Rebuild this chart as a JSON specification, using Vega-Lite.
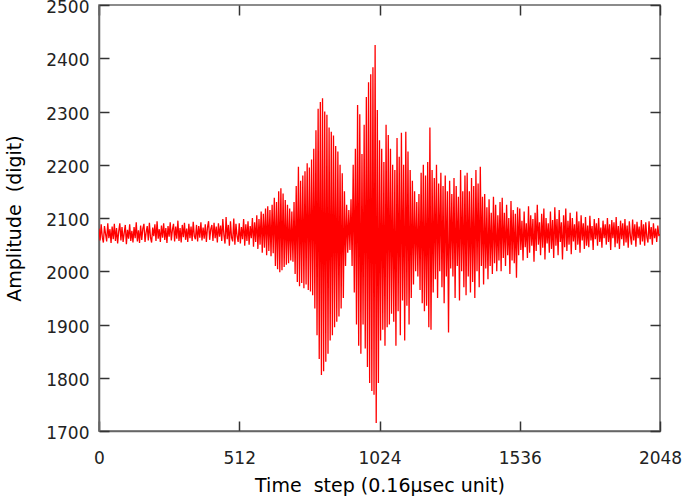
{
"$schema": "https://vega.github.io/schema/vega-lite/v6.json",
"width": 561, "height": 426,
"autosize": {"type": "none"},
"padding": {"left": 99, "top": 5, "right": 25, "bottom": 69},
"background": "white",
"config": {"view": {"stroke": "#666666", "strokeWidth": 1.5},
 "font": "DejaVu Sans",
 "axis": {"grid": false, "labelFont": "DejaVu Sans", "titleFont": "DejaVu Sans", "labelFontSize": 17, "titleFontSize": 19, "titleFontWeight": "normal", "labelColor": "#222222", "titleColor": "#000000", "domainColor": "#666666", "domainWidth": 1.5, "tickColor": "#333333", "tickWidth": 1.5, "tickSize": -10, "labelOverlap": false, "labelFlush": false, "labelBound": false, "format": "d"}},
"data": {"values": [
{"t":0,"a":2080},{"t":4,"a":2058},{"t":8,"a":2088},{"t":12,"a":2064},{"t":16,"a":2054},{"t":20,"a":2085},{"t":24,"a":2070},{"t":28,"a":2056},{"t":32,"a":2090},{"t":36,"a":2062},{"t":40,"a":2079},{"t":44,"a":2053},{"t":48,"a":2084},{"t":52,"a":2060},{"t":56,"a":2089},{"t":60,"a":2057},
{"t":64,"a":2081},{"t":68,"a":2052},{"t":72,"a":2075},{"t":76,"a":2090},{"t":80,"a":2058},{"t":84,"a":2083},{"t":88,"a":2055},{"t":92,"a":2072},{"t":96,"a":2087},{"t":100,"a":2051},{"t":104,"a":2078},{"t":108,"a":2061},{"t":112,"a":2088},{"t":116,"a":2057},{"t":120,"a":2076},{"t":124,"a":2054},
{"t":128,"a":2083},{"t":132,"a":2062},{"t":136,"a":2092},{"t":140,"a":2056},{"t":144,"a":2077},{"t":148,"a":2053},{"t":152,"a":2086},{"t":156,"a":2059},{"t":160,"a":2080},{"t":164,"a":2089},{"t":168,"a":2055},{"t":172,"a":2073},{"t":176,"a":2085},{"t":180,"a":2058},{"t":184,"a":2091},{"t":188,"a":2063},
{"t":192,"a":2054},{"t":196,"a":2082},{"t":200,"a":2066},{"t":204,"a":2088},{"t":208,"a":2057},{"t":212,"a":2094},{"t":216,"a":2061},{"t":220,"a":2079},{"t":224,"a":2055},{"t":228,"a":2086},{"t":232,"a":2063},{"t":236,"a":2090},{"t":240,"a":2059},{"t":244,"a":2081},{"t":248,"a":2053},{"t":252,"a":2085},
{"t":256,"a":2065},{"t":260,"a":2092},{"t":264,"a":2058},{"t":268,"a":2078},{"t":272,"a":2089},{"t":276,"a":2056},{"t":280,"a":2084},{"t":284,"a":2061},{"t":288,"a":2095},{"t":292,"a":2057},{"t":296,"a":2081},{"t":300,"a":2054},{"t":304,"a":2087},{"t":308,"a":2064},{"t":312,"a":2091},{"t":316,"a":2059},
{"t":320,"a":2080},{"t":324,"a":2055},{"t":328,"a":2089},{"t":332,"a":2062},{"t":336,"a":2084},{"t":340,"a":2057},{"t":344,"a":2093},{"t":348,"a":2066},{"t":352,"a":2060},{"t":356,"a":2087},{"t":360,"a":2056},{"t":364,"a":2085},{"t":368,"a":2063},{"t":372,"a":2092},{"t":376,"a":2058},{"t":380,"a":2082},
{"t":384,"a":2061},{"t":388,"a":2088},{"t":392,"a":2055},{"t":396,"a":2082},{"t":400,"a":2094},{"t":404,"a":2059},{"t":408,"a":2079},{"t":412,"a":2087},{"t":416,"a":2057},{"t":420,"a":2091},{"t":424,"a":2062},{"t":428,"a":2084},{"t":432,"a":2054},{"t":436,"a":2090},{"t":440,"a":2065},{"t":444,"a":2086},
{"t":448,"a":2057},{"t":452,"a":2098},{"t":456,"a":2068},{"t":460,"a":2052},{"t":464,"a":2102},{"t":468,"a":2060},{"t":472,"a":2087},{"t":476,"a":2048},{"t":480,"a":2094},{"t":484,"a":2063},{"t":488,"a":2056},{"t":492,"a":2099},{"t":496,"a":2050},{"t":500,"a":2089},{"t":504,"a":2066},{"t":508,"a":2055},
{"t":512,"a":2090},{"t":516,"a":2052},{"t":520,"a":2083},{"t":524,"a":2060},{"t":528,"a":2098},{"t":532,"a":2048},{"t":536,"a":2088},{"t":540,"a":2057},{"t":544,"a":2094},{"t":548,"a":2050},{"t":552,"a":2085},{"t":556,"a":2062},{"t":560,"a":2100},{"t":564,"a":2046},{"t":568,"a":2092},{"t":572,"a":2055},
{"t":576,"a":2105},{"t":580,"a":2042},{"t":584,"a":2098},{"t":588,"a":2050},{"t":592,"a":2112},{"t":596,"a":2035},{"t":600,"a":2108},{"t":604,"a":2044},{"t":608,"a":2118},{"t":612,"a":2030},{"t":616,"a":2122},{"t":620,"a":2038},{"t":624,"a":2115},{"t":628,"a":2028},{"t":632,"a":2125},{"t":636,"a":2034},
{"t":640,"a":2138},{"t":644,"a":2010},{"t":648,"a":2130},{"t":652,"a":2004},{"t":656,"a":2150},{"t":660,"a":1998},{"t":664,"a":2156},{"t":668,"a":2002},{"t":672,"a":2146},{"t":676,"a":2008},{"t":680,"a":2134},{"t":684,"a":2012},{"t":688,"a":2125},{"t":692,"a":2015},{"t":696,"a":2118},{"t":700,"a":2020},
{"t":704,"a":2112},{"t":708,"a":2018},{"t":712,"a":2130},{"t":716,"a":1995},{"t":720,"a":2160},{"t":724,"a":1980},{"t":728,"a":2196},{"t":732,"a":1972},{"t":736,"a":2170},{"t":740,"a":1978},{"t":744,"a":2180},{"t":748,"a":1968},{"t":752,"a":2188},{"t":756,"a":1975},{"t":760,"a":2203},{"t":764,"a":1965},
{"t":768,"a":2195},{"t":772,"a":1962},{"t":776,"a":2210},{"t":780,"a":1955},{"t":784,"a":2230},{"t":788,"a":1930},{"t":792,"a":2265},{"t":796,"a":1880},{"t":800,"a":2305},{"t":804,"a":1835},{"t":808,"a":2318},{"t":812,"a":1805},{"t":816,"a":2325},{"t":820,"a":1812},{"t":824,"a":2300},{"t":828,"a":1830},
{"t":832,"a":2294},{"t":836,"a":1845},{"t":840,"a":2270},{"t":844,"a":1870},{"t":848,"a":2262},{"t":852,"a":1880},{"t":856,"a":2255},{"t":860,"a":1895},{"t":864,"a":2235},{"t":868,"a":1905},{"t":872,"a":2225},{"t":876,"a":1915},{"t":880,"a":2200},{"t":884,"a":1930},{"t":888,"a":2184},{"t":892,"a":1950},
{"t":896,"a":2150},{"t":900,"a":2010},{"t":904,"a":2125},{"t":908,"a":2035},{"t":912,"a":2115},{"t":916,"a":2040},{"t":920,"a":2135},{"t":924,"a":2010},{"t":928,"a":2200},{"t":932,"a":1960},{"t":936,"a":2230},{"t":940,"a":1900},{"t":944,"a":2312},{"t":948,"a":1860},{"t":952,"a":2295},{"t":956,"a":1845},
{"t":960,"a":2220},{"t":964,"a":1900},{"t":968,"a":2275},{"t":972,"a":1855},{"t":976,"a":2327},{"t":980,"a":1820},{"t":984,"a":2355},{"t":988,"a":1790},{"t":992,"a":2370},{"t":996,"a":1775},{"t":1000,"a":2383},{"t":1004,"a":1768},{"t":1008,"a":2425},{"t":1012,"a":1715},{"t":1016,"a":2303},{"t":1020,"a":1790},
{"t":1024,"a":2246},{"t":1028,"a":1870},{"t":1032,"a":2230},{"t":1036,"a":1890},{"t":1040,"a":2205},{"t":1044,"a":1860},{"t":1048,"a":2275},{"t":1052,"a":1895},{"t":1056,"a":2256},{"t":1060,"a":1900},{"t":1064,"a":2230},{"t":1068,"a":1920},{"t":1072,"a":2200},{"t":1076,"a":1905},{"t":1080,"a":2190},{"t":1084,"a":1860},
{"t":1088,"a":2250},{"t":1092,"a":1925},{"t":1096,"a":2215},{"t":1100,"a":1880},{"t":1104,"a":2260},{"t":1108,"a":1945},{"t":1112,"a":2200},{"t":1116,"a":1870},{"t":1120,"a":2262},{"t":1124,"a":1935},{"t":1128,"a":2225},{"t":1132,"a":1900},{"t":1136,"a":2190},{"t":1140,"a":1950},{"t":1144,"a":2170},{"t":1148,"a":1975},
{"t":1152,"a":2150},{"t":1156,"a":2000},{"t":1160,"a":2130},{"t":1164,"a":1990},{"t":1168,"a":2145},{"t":1172,"a":1965},{"t":1176,"a":2185},{"t":1180,"a":1940},{"t":1184,"a":2200},{"t":1188,"a":1925},{"t":1192,"a":2180},{"t":1196,"a":1935},{"t":1200,"a":2205},{"t":1204,"a":1895},{"t":1208,"a":2270},{"t":1212,"a":1890},
{"t":1216,"a":2190},{"t":1220,"a":1960},{"t":1224,"a":2175},{"t":1228,"a":1985},{"t":1232,"a":2200},{"t":1236,"a":1950},{"t":1240,"a":2165},{"t":1244,"a":2000},{"t":1248,"a":2185},{"t":1252,"a":1970},{"t":1256,"a":2160},{"t":1260,"a":1940},{"t":1264,"a":2180},{"t":1268,"a":1990},{"t":1272,"a":2150},{"t":1276,"a":1885},
{"t":1280,"a":2170},{"t":1284,"a":2005},{"t":1288,"a":2145},{"t":1292,"a":1990},{"t":1296,"a":2175},{"t":1300,"a":1950},{"t":1304,"a":2160},{"t":1308,"a":2010},{"t":1312,"a":2140},{"t":1316,"a":1945},{"t":1320,"a":2190},{"t":1324,"a":2000},{"t":1328,"a":2150},{"t":1332,"a":1970},{"t":1336,"a":2180},{"t":1340,"a":1955},
{"t":1344,"a":2185},{"t":1348,"a":1990},{"t":1352,"a":2150},{"t":1356,"a":1960},{"t":1360,"a":2175},{"t":1364,"a":1980},{"t":1368,"a":2160},{"t":1372,"a":1950},{"t":1376,"a":2190},{"t":1380,"a":2000},{"t":1384,"a":2165},{"t":1388,"a":1970},{"t":1392,"a":2196},{"t":1396,"a":2010},{"t":1400,"a":2140},{"t":1404,"a":1975},
{"t":1408,"a":2145},{"t":1412,"a":2005},{"t":1416,"a":2120},{"t":1420,"a":1985},{"t":1424,"a":2135},{"t":1428,"a":2010},{"t":1432,"a":2110},{"t":1436,"a":1995},{"t":1440,"a":2140},{"t":1444,"a":2015},{"t":1448,"a":2125},{"t":1452,"a":2000},{"t":1456,"a":2105},{"t":1460,"a":2020},{"t":1464,"a":2130},{"t":1468,"a":2000},
{"t":1472,"a":2138},{"t":1476,"a":2025},{"t":1480,"a":2110},{"t":1484,"a":2010},{"t":1488,"a":2125},{"t":1492,"a":2030},{"t":1496,"a":2100},{"t":1500,"a":1995},{"t":1504,"a":2132},{"t":1508,"a":2020},{"t":1512,"a":2115},{"t":1516,"a":2015},{"t":1520,"a":2108},{"t":1524,"a":1988},{"t":1528,"a":2120},{"t":1532,"a":2030},
{"t":1536,"a":2118},{"t":1540,"a":2040},{"t":1544,"a":2095},{"t":1548,"a":2020},{"t":1552,"a":2112},{"t":1556,"a":2045},{"t":1560,"a":2090},{"t":1564,"a":2025},{"t":1568,"a":2122},{"t":1572,"a":2035},{"t":1576,"a":2105},{"t":1580,"a":2048},{"t":1584,"a":2098},{"t":1588,"a":2018},{"t":1592,"a":2110},{"t":1596,"a":2038},
{"t":1600,"a":2125},{"t":1604,"a":2050},{"t":1608,"a":2092},{"t":1612,"a":2030},{"t":1616,"a":2108},{"t":1620,"a":2044},{"t":1624,"a":2118},{"t":1628,"a":2022},{"t":1632,"a":2100},{"t":1636,"a":2052},{"t":1640,"a":2090},{"t":1644,"a":2035},{"t":1648,"a":2112},{"t":1652,"a":2042},{"t":1656,"a":2096},{"t":1660,"a":2025},
{"t":1664,"a":2120},{"t":1668,"a":2048},{"t":1672,"a":2098},{"t":1676,"a":2030},{"t":1680,"a":2115},{"t":1684,"a":2055},{"t":1688,"a":2092},{"t":1692,"a":2022},{"t":1696,"a":2105},{"t":1700,"a":2045},{"t":1704,"a":2118},{"t":1708,"a":2038},{"t":1712,"a":2095},{"t":1716,"a":2050},{"t":1720,"a":2110},{"t":1724,"a":2032},
{"t":1728,"a":2100},{"t":1732,"a":2056},{"t":1736,"a":2088},{"t":1740,"a":2040},{"t":1744,"a":2112},{"t":1748,"a":2050},{"t":1752,"a":2094},{"t":1756,"a":2035},{"t":1760,"a":2105},{"t":1764,"a":2058},{"t":1768,"a":2090},{"t":1772,"a":2042},{"t":1776,"a":2102},{"t":1780,"a":2048},{"t":1784,"a":2086},{"t":1788,"a":2045},
{"t":1792,"a":2104},{"t":1796,"a":2058},{"t":1800,"a":2085},{"t":1804,"a":2040},{"t":1808,"a":2098},{"t":1812,"a":2060},{"t":1816,"a":2090},{"t":1820,"a":2048},{"t":1824,"a":2100},{"t":1828,"a":2055},{"t":1832,"a":2082},{"t":1836,"a":2044},{"t":1840,"a":2095},{"t":1844,"a":2062},{"t":1848,"a":2088},{"t":1852,"a":2050},
{"t":1856,"a":2100},{"t":1860,"a":2055},{"t":1864,"a":2088},{"t":1868,"a":2040},{"t":1872,"a":2096},{"t":1876,"a":2062},{"t":1880,"a":2092},{"t":1884,"a":2045},{"t":1888,"a":2102},{"t":1892,"a":2052},{"t":1896,"a":2085},{"t":1900,"a":2042},{"t":1904,"a":2095},{"t":1908,"a":2060},{"t":1912,"a":2090},{"t":1916,"a":2048},
{"t":1920,"a":2098},{"t":1924,"a":2054},{"t":1928,"a":2086},{"t":1932,"a":2044},{"t":1936,"a":2094},{"t":1940,"a":2066},{"t":1944,"a":2050},{"t":1948,"a":2097},{"t":1952,"a":2058},{"t":1956,"a":2088},{"t":1960,"a":2046},{"t":1964,"a":2093},{"t":1968,"a":2062},{"t":1972,"a":2084},{"t":1976,"a":2050},{"t":1980,"a":2096},
{"t":1984,"a":2056},{"t":1988,"a":2088},{"t":1992,"a":2048},{"t":1996,"a":2092},{"t":2000,"a":2064},{"t":2004,"a":2054},{"t":2008,"a":2094},{"t":2012,"a":2060},{"t":2016,"a":2083},{"t":2020,"a":2050},{"t":2024,"a":2090},{"t":2028,"a":2062},{"t":2032,"a":2080},{"t":2036,"a":2055},{"t":2040,"a":2086},{"t":2044,"a":2066},
{"t":2047,"a":2070}
]},
"layer": [
 {"mark": {"type": "line", "color": "#ff0000", "strokeWidth": 1.3, "clip": true},
  "encoding": {
   "x": {"field": "t", "type": "quantitative", "scale": {"domain": [0, 2048], "nice": false, "zero": false},
     "axis": {"orient": "bottom", "values": [0, 512, 1024, 1536, 2048], "title": "Time\u00a0 step (0.16µsec unit)", "labelPadding": 29, "titlePadding": 10}},
   "y": {"field": "a", "type": "quantitative", "scale": {"domain": [1700, 2500], "nice": false, "zero": false},
     "axis": {"orient": "left", "values": [1700, 1800, 1900, 2000, 2100, 2200, 2300, 2400, 2500], "title": "Amplitude\u00a0 (digit)", "labelPadding": 20, "labelOffset": 2.5, "titlePadding": 21}}
  }},
 {"mark": {"type": "line", "strokeOpacity": 0},
  "encoding": {
   "x": {"field": "t", "type": "quantitative", "axis": {"orient": "top", "values": [0, 512, 1024, 1536, 2048], "labels": false, "title": null, "domain": false}},
   "y": {"field": "a", "type": "quantitative", "axis": {"orient": "right", "values": [1700, 1800, 1900, 2000, 2100, 2200, 2300, 2400, 2500], "labels": false, "title": null, "domain": false}}
  }}
],
"resolve": {"axis": {"x": "independent", "y": "independent"}}
}
